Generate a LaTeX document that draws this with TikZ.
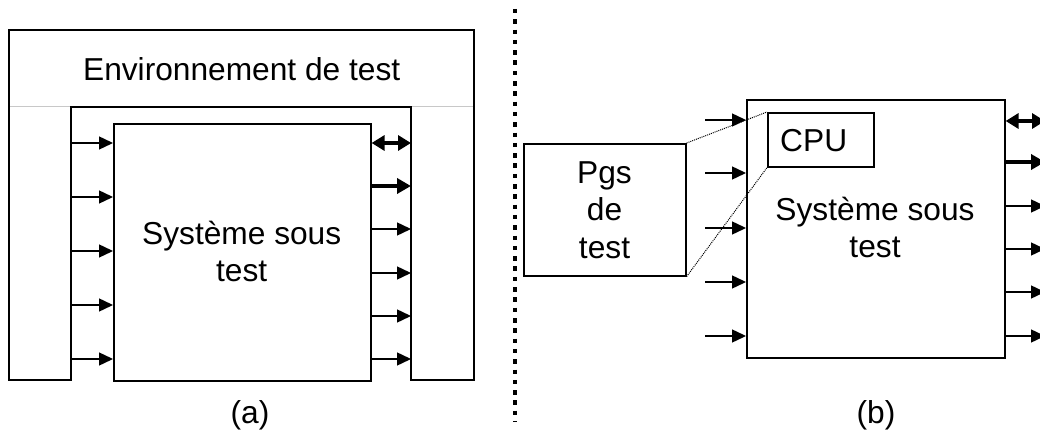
\documentclass[tikz,border=0pt]{standalone}
\usepackage{fontspec}
\setmainfont{Liberation Sans}
\usetikzlibrary{arrows.meta}
\definecolor{Sepgray}{RGB}{200,200,200}

\begin{document}
\begin{tikzpicture}[x=1pt,y=-1pt,
  box/.style={draw,line width=1.6pt,inner sep=0pt},
  txt/.style={align=center,inner sep=0pt,font=\fontsize{31.7}{37.5}\selectfont},
  arr/.style={line width=1.4pt,-{Triangle[length=14pt,width=13pt]}},
  arrbold/.style={line width=4pt,-{Triangle[length=14pt,width=15pt]}},
  arrboth/.style={line width=4pt,{Triangle[length=13pt,width=15pt]}-{Triangle[length=13pt,width=15pt]}},
  link/.style={densely dotted,line width=1pt}]
\path[use as bounding box] (0,0) rectangle (1040,435);
\draw[line width=1pt,Sepgray] (9,107) -- (474,107);
\draw[line width=1.6pt] (9,30) -- (474,30) -- (474,380) -- (411,380) -- (411,107) -- (71,107) -- (71,380) -- (9,380) -- cycle;
\coordinate (envL) at (71,107);
\coordinate (envR) at (411,107);
\node[txt,anchor=base] (envtxt) at (241.7,81) {Environnement de test};
\node[box,anchor=north west,minimum width=257pt,minimum height=257pt] (sutA) at (113,123) {};
\node[txt,anchor=base] (sutAtxt) at (241.7,281.7) {Système sous\\test};
\foreach \y in {143,197,251,305,359}
  \draw[arr] (envL |- 0,\y) -- (sutA.west |- 0,\y);
\draw[arrboth] (sutA.east |- 0,143) -- (envR |- 0,143);
\draw[arrbold] (sutA.east |- 0,186) -- (envR |- 0,186);
\foreach \y in {229,273,316,359}
  \draw[arr] (sutA.east |- 0,\y) -- (envR |- 0,\y);
\node[txt,anchor=base] (capA) at (250,423.5) {(a)};
\draw[line width=4.5pt,dash pattern=on 4.5pt off 5.8pt] (515,9) -- (515,422);
\node[box,anchor=north west,minimum width=162pt,minimum height=132pt] (pgs) at (523,143) {};
\node[txt,anchor=base] (pgstxt) at (604.5,258.3) {Pgs\\de\\test};
\node[box,anchor=north west,minimum width=258pt,minimum height=258pt] (sutB) at (746,99) {};
\node[box,anchor=north west,minimum width=106pt,minimum height=54pt] (cpu) at (767,112) {};
\node[txt,anchor=base] (cputxt) at (813.7,151.7) {CPU};
\node[txt,anchor=base] (sutBtxt) at (875,258) {Système sous\\test};
\draw[link] (pgs.north east) -- (cpu.north west);
\draw[link] (pgs.south east) -- (cpu.south west);
\coordinate (srcB) at (705,99);
\coordinate (outB) at (1045,99);
\foreach \y in {120,173,228,282,336}
  \draw[arr] (srcB |- 0,\y) -- (sutB.west |- 0,\y);
\draw[arrboth] (sutB.east |- 0,121) -- (outB |- 0,121);
\draw[arrbold] (sutB.east |- 0,162) -- (outB |- 0,162);
\foreach \y in {206,249,292,336}
  \draw[arr] (sutB.east |- 0,\y) -- (outB |- 0,\y);
\node[txt,anchor=base] (capB) at (876,423.5) {(b)};
\end{tikzpicture}
\end{document}
